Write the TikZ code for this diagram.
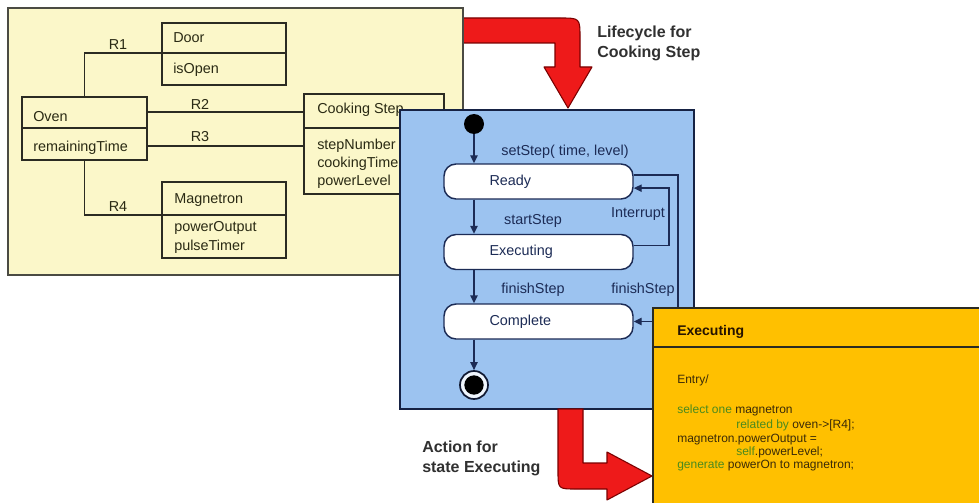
\documentclass[tikz,border=0pt]{standalone}
\usepackage{fontspec}
\setmainfont{Liberation Sans}
\usetikzlibrary{arrows.meta,fit,calc}
\definecolor{classline}{HTML}{2B2B22}
\definecolor{classtext}{HTML}{2A2A14}
\definecolor{navy}{HTML}{1C2B55}
\definecolor{bluefill}{HTML}{9CC3F0}
\definecolor{yellowfill}{HTML}{FBF7C9}
\definecolor{orangefill}{HTML}{FFC000}
\definecolor{redfill}{HTML}{EE1A1A}
\definecolor{redline}{HTML}{7A0000}
\definecolor{kwgreen}{HTML}{4A8A1E}
\definecolor{codebrown}{HTML}{3A2A08}
\definecolor{titlegray}{HTML}{303030}
\begin{document}
\begin{tikzpicture}[x=0.75pt,y=-0.75pt,
  panel/.style={line width=1pt},
  classbox/.style={draw=classline, line width=1.1pt, inner sep=0pt},
  clstxt/.style={font=\fontsize{10.8}{12}\selectfont, text=classtext, inner sep=0pt, anchor=west},
  assoc/.style={draw=classline, line width=1.1pt},
  statebox/.style={draw=navy, fill=white, rounded corners=9pt, line width=1.1pt,
    minimum width=141.75pt, minimum height=26.25pt, inner sep=0pt},
  sttxt/.style={font=\fontsize{10.8}{12}\selectfont, text=navy, inner sep=0pt, anchor=west},
  trans/.style={draw=navy, line width=1.1pt, -{Triangle[length=6pt,width=5.5pt]}},
  lbl/.style={font=\fontsize{10.8}{12}\selectfont, text=navy, inner sep=0pt},
  bigarrow/.style={fill=redfill, draw=redline, line width=0.8pt, line join=round},
  title/.style={font=\fontsize{12}{15}\selectfont\bfseries, text=titlegray, align=left, inner sep=0pt, anchor=west},
  code/.style={font=\fontsize{9}{10.5}\selectfont, text=codebrown, inner sep=0pt, anchor=base west},
  kw/.style={text=kwgreen}
]
\useasboundingbox (0,0) rectangle (979,503);
\fill[white] (0,0) rectangle (979,503);
\begin{scope}
\clip (0,0) rectangle (979,503);

% arrow from the class diagram down to the state machine
\path[bigarrow] (455,18) -- (560,18) .. controls (580,18) and (580,18) .. (580,38)
  -- (580,67) -- (592,67) -- (568,108) -- (544,67) -- (555,67) -- (555,43) -- (455,43) -- cycle;

% ---------- class diagram ----------
\node[fit={(8,8) (463,275)}, inner sep=0pt, draw=classline!85, fill=yellowfill, panel] (classpanel) {};

\node[classbox, fit={(162,23) (286,85)}] (door) {};
\node[classbox, fit={(22,97) (147,160)}] (oven) {};
\node[classbox, fit={(304,94) (444,194)}] (cstep) {};
\node[classbox, fit={(162,182) (286,258)}] (magnetron) {};

\draw[assoc] (door.west |- 0,53) -- (door.east |- 0,53);
\draw[assoc] (oven.west |- 0,128) -- (oven.east |- 0,128);
\draw[assoc] (cstep.west |- 0,128) -- (cstep.east |- 0,128);
\draw[assoc] (magnetron.west |- 0,215) -- (magnetron.east |- 0,215);

\node[clstxt] (doorname) at (173,38) {Door};
\node[clstxt] (dooratt) at (173,70) {isOpen};
\node[clstxt] (ovenname) at (33,117) {Oven};
\node[clstxt] (ovenatt) at (33,148) {remainingTime};
\node[clstxt] (cstepname) at (317,110) {Cooking Step};
\node[clstxt] (cstepatta) at (317,146) {stepNumber};
\node[clstxt] (cstepattb) at (317,164) {cookingTime};
\node[clstxt] (cstepattc) at (317,182) {powerLevel};
\node[clstxt] (magname) at (174,200) {Magnetron};
\node[clstxt] (magatta) at (174,228) {powerOutput};
\node[clstxt] (magattb) at (174,247) {pulseTimer};

% associations
\coordinate (r1end) at (door.west |- 0,53);
\coordinate (r2start) at (oven.east |- 0,112);
\coordinate (r3start) at (oven.east |- 0,146);
\coordinate (r4end) at (magnetron.west |- 0,215);
\draw[assoc] (oven.north) |- (r1end);
\draw[assoc] (r2start) -- (r2start -| cstep.west);
\draw[assoc] (r3start) -- (r3start -| cstep.west);
\draw[assoc] (oven.south) |- (r4end);
\node[clstxt, anchor=center] (rone) at (118,45) {R1};
\node[clstxt, anchor=center] (rtwo) at (200,104) {R2};
\node[clstxt, anchor=center] (rthree) at (200,137) {R3};
\node[clstxt, anchor=center] (rfour) at (118,207) {R4};

% ---------- state machine ----------
\node[fit={(400,110) (694,409)}, inner sep=0pt, draw=navy!80!black, fill=bluefill, line width=1.1pt] (statepanel) {};

\node[circle, fill=black, minimum size=15pt, inner sep=0pt] (init) at (474,124) {};
\node[statebox] (ready) at (538.5,181.5) {};
\node[statebox] (exec) at (538.5,252) {};
\node[statebox] (complete) at (538.5,321.5) {};
\node[circle, draw=navy!60!black, line width=1.3pt, fill=white!85!bluefill, minimum size=21pt, inner sep=0pt] (final) at (474,385) {};
\node[circle, fill=black, minimum size=14.5pt, inner sep=0pt] (finaldot) at (final) {};

\node[sttxt] (readytxt) at ([xshift=34.5pt]ready.west) {Ready};
\node[sttxt] (exectxt) at ([xshift=34.5pt]exec.west) {Executing};
\node[sttxt] (completetxt) at ([xshift=34.5pt]complete.west) {Complete};

\draw[trans] (init) -- (init |- ready.north);
\draw[trans] (ready.south -| init) -- (exec.north -| init);
\draw[trans] (exec.south -| init) -- (complete.north -| init);
\draw[trans] (complete.south -| init) -- (final);

\coordinate (intout) at ([yshift=5pt]exec.east);
\coordinate (intin) at ([yshift=-5pt]ready.east);
\draw[trans] (intout) -- (intout -| 669,0) |- (intin);
\coordinate (finout) at ([yshift=5pt]ready.east);
\draw[trans] (finout) -- (finout -| 678,0) |- (complete.east);

\node[lbl] (setsteplbl) at (565,152) {setStep( time, level)};
\node[lbl] (startlbl) at (533,221) {startStep};
\node[lbl] (finishlbl) at (533,290) {finishStep};
\node[lbl] (interruptlbl) at (638,214) {Interrupt};
\node[lbl] (finishlblb) at (643,290) {finishStep};

% arrow from the state machine to the state action
\path[bigarrow] (558,409) -- (558,471) .. controls (558,489) and (558,489) .. (576,489)
  -- (607,489) -- (607,500) -- (652,476) -- (607,452) -- (607,463) -- (583,463) -- (583,409) -- cycle;

% ---------- state action ----------
\node[fit={(653,308) (995,520)}, inner sep=0pt, draw=classline, fill=orangefill, line width=1.1pt] (action) {};
\draw[assoc] (action.west |- 0,347) -- (action.east |- 0,347);
\node[code, font=\fontsize{10.5}{12}\selectfont\bfseries, text=black!85!orange] (actionname) at (677,335) {Executing};
\node[code] (entry) at (677,383) {Entry/};
\node[code] (linea) at (677,413) {\textcolor{kwgreen}{select one} magnetron};
\node[code] (lineb) at (736,428) {\textcolor{kwgreen}{related by} oven->[R4];};
\node[code] (linec) at (677,442) {magnetron.powerOutput =};
\node[code] (lined) at (736,455) {\textcolor{kwgreen}{self}.powerLevel;};
\node[code] (linee) at (677,468) {\textcolor{kwgreen}{generate} powerOn to magnetron;};

% captions
\node[title] (lifecycle) at (597,43) {Lifecycle for\\Cooking Step};
\node[title] (actionfor) at (422,458) {Action for\\state Executing};
\end{scope}
\end{tikzpicture}
\end{document}
